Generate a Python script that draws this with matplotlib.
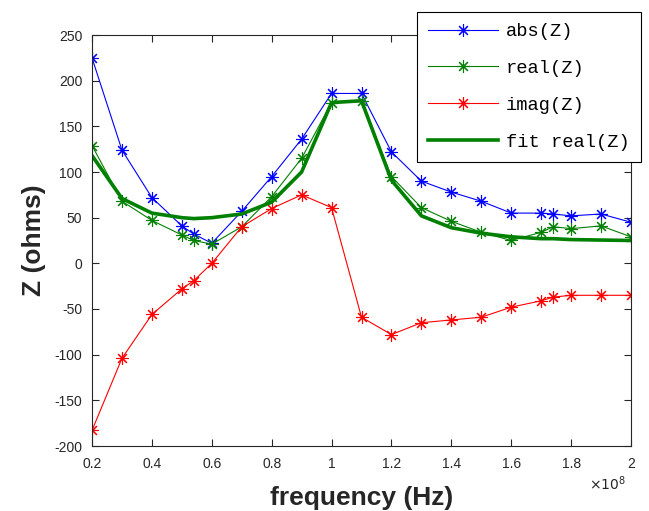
import matplotlib
matplotlib.use("Agg")
import matplotlib.pyplot as plt
from matplotlib.ticker import FuncFormatter

# frequency in units of 1e8 Hz
freq = [0.2, 0.3, 0.4, 0.5, 0.54, 0.6, 0.7, 0.8, 0.9, 1.0, 1.1,
        1.2, 1.3, 1.4, 1.5, 1.6, 1.7, 1.74, 1.8, 1.9, 2.0]
z_abs = [225, 124, 72, 41, 32, 22, 57, 95, 136, 186, 186,
         122, 90, 78, 68, 55, 55, 54, 52, 54, 45]
z_real = [129, 68, 47, 31, 25, 21, 40, 73, 115, 176, 178,
          95, 61, 46, 34, 25, 34, 40, 38, 41, 29]
z_imag = [-183, -104, -56, -28, -19, 0, 40, 60, 75, 61, -59,
          -78, -65, -62, -59, -48, -41, -37, -35, -35, -35]
z_fit = [118, 71, 55, 50, 49, 50, 54, 67, 100, 176, 178,
         91, 52, 39, 33, 29, 27, 27, 26, 25.5, 25]

labels = ['abs(Z)', 'real(Z)', 'imag(Z)', 'fit real(Z)']
xticks = [0.2, 0.4, 0.6, 0.8, 1.0, 1.2, 1.4, 1.6, 1.8, 2.0]

plt.rcParams['font.family'] = ['Liberation Sans', 'DejaVu Sans']
plt.rcParams['axes.unicode_minus'] = False

fig = plt.figure(figsize=(6.49, 5.11), dpi=100)
ax = fig.add_axes([92/649, 1-446/511, (631-92)/649, (446-35)/511])

hz = [f*1e8 for f in freq]
star = (8, 2, 0)
ax.plot(hz, z_abs, color='#0000ff', lw=0.8, marker=star, ms=9, mew=0.8, label=labels[0])
ax.plot(hz, z_real, color='#008000', lw=0.8, marker=star, ms=9, mew=0.8, label=labels[1])
ax.plot(hz, z_imag, color='#ff0000', lw=0.8, marker=star, ms=9, mew=0.8, label=labels[2])
ax.plot(hz, z_fit, color='#008000', lw=2.6, label=labels[3])

ax.set_xlim(0.2e8, 2.0e8)
ax.set_ylim(-200, 250)
ax.set_xticks([f*1e8 for f in xticks])
ax.set_yticks(range(-200, 251, 50))
ax.xaxis.set_major_formatter(FuncFormatter(lambda v, p: '%g' % round(v/1e8, 3)))
ax.yaxis.set_major_formatter(FuncFormatter(lambda v, p: '%g' % v))

ax.tick_params(direction='in', top=True, right=True, labelsize=10,
               labelcolor='#262626', length=5, width=0.8, color='#262626')
ax.tick_params(axis='x', pad=8)
ax.tick_params(axis='y', pad=7)
for s in ax.spines.values():
    s.set_linewidth(0.8)
    s.set_color('#262626')

ax.text(0.99, -0.068, r'$\times10^{8}$', transform=ax.transAxes, ha='right', va='top',
        fontsize=10, color='#262626')

ax.set_xlabel('frequency (Hz)', fontsize=19, fontweight='bold', color='#262626', labelpad=11)
ax.set_ylabel('Z (ohms)', fontsize=19, fontweight='bold', color='#262626', labelpad=6)

leg = ax.legend(loc='upper right', bbox_to_anchor=(641/649, 1-11.7/511),
                bbox_transform=fig.transFigure, borderaxespad=0,
                prop={'family': ['Liberation Mono', 'DejaVu Sans Mono'], 'size': 13.5},
                fancybox=False, framealpha=1, edgecolor='black',
                handlelength=3.7, labelspacing=1.05, borderpad=0.6,
                handletextpad=0.45)
leg.get_frame().set_linewidth(0.8)
leg.set_zorder(10)

fig.savefig('out.png', dpi=100)
